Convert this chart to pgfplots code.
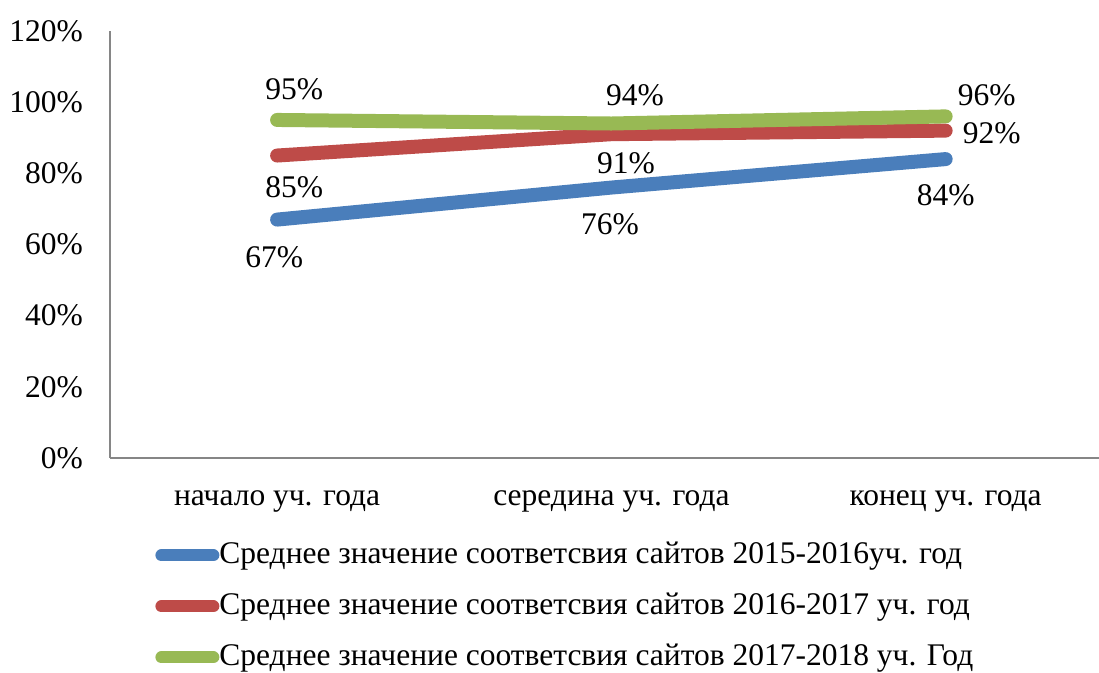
\documentclass[border=0pt]{standalone}
\usepackage{pgfplots}
\pgfplotsset{compat=1.18}
\usepackage{fontspec}
\setmainfont{Liberation Serif}
\definecolor{cblue}{HTML}{4A7EBB}
\definecolor{cred}{HTML}{BE4B48}
\definecolor{cgreen}{HTML}{98B954}
\definecolor{caxis}{HTML}{868686}
\pgfplotstableread{
x y dx dy
0 67 -1.5 -18.7
1 76 -0.75 -18.2
2 84 0 -18
}\blue
\pgfplotstableread{
x y dx dy
0 85 8.5 -15.7
1 91 7.25 -14.4
2 92 23 -1.2
}\red
\pgfplotstableread{
x y dx dy
0 95 8.5 15.5
1 94 11.75 14
2 96 20.5 10.7
}\green
\begin{document}
\begin{tikzpicture}[font=\fontsize{15.75}{18.5}\selectfont]
\useasboundingbox (-55pt,-107.5pt) rectangle (494.5pt,229pt);
\begin{axis}[
  at={(0,0)}, anchor=south west,
  scale only axis, width=494.5pt, height=213.5pt,
  xmin=-0.5, xmax=2.4588, ymin=0, ymax=120,
  axis lines*=left,
  axis line style={caxis, line width=1pt},
  xtick={0,1,2},
  xticklabels={начало уч. года, середина уч. года, конец уч. года},
  ytick={0,20,40,60,80,100,120},
  yticklabels={0\%,20\%,40\%,60\%,80\%,100\%,120\%},
  major tick length=0pt,
  xticklabel style={yshift=-13pt},
  yticklabel style={xshift=-10pt},
  clip=false,
  /pgf/number format/assume math mode=true,
  nodes near coords={\pgfmathprintnumber{\pgfplotspointmeta}\%},
  point meta=y,
  visualization depends on={\thisrow{dx} \as \dx},
  visualization depends on={\thisrow{dy} \as \dy},
  every node near coord/.style={anchor=center, xshift=\dx pt, yshift=\dy pt, text=black, inner sep=0pt},
  legend style={at={(axis description cs:0.0455,-0.192)}, anchor=north west,
    draw=none, fill=none, inner sep=0pt, row sep=10.5pt,
    nodes={inner sep=0pt, text height=11.5pt, text depth=3.5pt, anchor=west}},
  legend cell align=left,
  legend image code/.code={\draw[#1, line width=6pt, line cap=round] (3pt,0pt) -- (29pt,0pt);},
]
\addplot[cblue, line width=7pt, line cap=round, line join=round] table[x=x,y=y] {\blue};
\addlegendentry{Среднее значение соответсвия сайтов 2015-2016уч. год}
\addplot[cred, line width=7pt, line cap=round, line join=round] table[x=x,y=y] {\red};
\addlegendentry{Среднее значение соответсвия сайтов 2016-2017 уч. год}
\addplot[cgreen, line width=7pt, line cap=round, line join=round] table[x=x,y=y] {\green};
\addlegendentry{Среднее значение соответсвия сайтов 2017-2018 уч. Год}
\end{axis}
\end{tikzpicture}
\end{document}
